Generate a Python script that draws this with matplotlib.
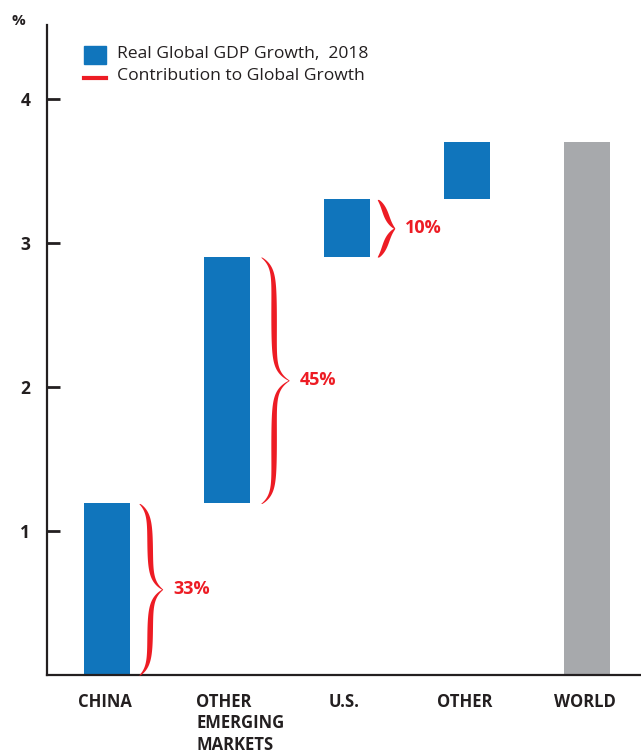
import numpy as np
import matplotlib
matplotlib.use('Agg')
import matplotlib.pyplot as plt
from matplotlib.transforms import blended_transform_factory

# Data
categories = ['CHINA', 'OTHER\nEMERGING\nMARKETS', 'U.S.', 'OTHER', 'WORLD']
bar_bottom = [0.0, 1.19, 2.90, 3.30, 0.0]
bar_top = [1.19, 2.90, 3.30, 3.70, 3.70]
contrib_labels = ['33%', '45%', '10%']
yticks = [1, 2, 3, 4]

blue = '#1075BC'
gray = '#A7A9AC'
red = '#ED1C24'
dark = '#231F20'

fig = plt.figure(figsize=(6.41, 7.54), dpi=100)
ax = fig.add_axes([0.0733, 0.1048, 0.9267, 0.862])
x = np.arange(len(categories))
colors = [blue, blue, blue, blue, gray]
heights = [t - b for t, b in zip(bar_top, bar_bottom)]
bar_w = 0.39
ax.bar(x, heights, bottom=bar_bottom, width=bar_w, color=colors, zorder=2)

ax.set_xlim(-0.5, 4.45)
ax.set_ylim(0, 4.51)


# curly brace drawn as a tapered filled shape
def draw_brace(ax, x0, y0, y1, w, label):
    ym = (y0 + y1) / 2
    half = (y1 - y0) / 2
    c = 0.06
    y = np.linspace(y0, y1, 600)
    d = half - np.abs(y - ym)          # distance from the nearest end
    a = 0.45 * w
    xc = x0 + a * (1 - np.exp(-d / c)) + (w - a) * np.exp(-(half - d) / c)
    s = d / half
    t = 0.004 + 0.019 * np.sin(np.pi * np.clip(s, 0, 1)) ** 0.5
    ax.fill_betweenx(y, xc - t, xc + t, color=red, lw=0, zorder=3)
    ax.text(x0 + w + 0.09, ym, label, color=red, fontsize=13, fontweight='bold',
            va='center', ha='left', family='Open Sans')


draw_brace(ax, 0 + bar_w / 2 + 0.075, bar_bottom[0], bar_top[0], 0.19, contrib_labels[0])
draw_brace(ax, 1 + bar_w / 2 + 0.09, bar_bottom[1], bar_top[1], 0.23, contrib_labels[1])
draw_brace(ax, 2 + bar_w / 2 + 0.06, bar_bottom[2], bar_top[2], 0.14, contrib_labels[2])

# axes styling
for side in ['top', 'right']:
    ax.spines[side].set_visible(False)
for side in ['left', 'bottom']:
    ax.spines[side].set_linewidth(1.6)
    ax.spines[side].set_color(dark)
ax.set_yticks(yticks)
ax.set_yticklabels([str(v) for v in yticks], fontsize=12.5, fontweight='bold',
                   color=dark, family='Open Sans')
ax.tick_params(axis='y', direction='in', length=9, width=2, color=dark, pad=12)
ax.set_xticks([])

# category labels
trans = blended_transform_factory(ax.transData, ax.transAxes)
for i, cat in enumerate(categories):
    if '\n' in cat:
        ax.text(i - bar_w / 2 - 0.06, -0.027, cat, transform=trans, ha='left', va='top',
                fontsize=12, fontweight='bold', color=dark, family='Open Sans',
                linespacing=1.25)
    else:
        ax.text(i - 0.02, -0.027, cat, transform=trans, ha='center', va='top',
                fontsize=12, fontweight='bold', color=dark, family='Open Sans')

fig.text(0.028, 0.972, '%', fontsize=11, fontweight='bold', color=dark,
         family='Open Sans', ha='center', va='center')

# legend
lx0, lx1 = 84 / 641, 106 / 641
fig.patches.append(plt.Rectangle((lx0, 1 - 64 / 754), lx1 - lx0, 18 / 754,
                                 transform=fig.transFigure, color=blue))
fig.lines.append(plt.Line2D([lx0, lx1], [1 - 78 / 754, 1 - 78 / 754],
                            transform=fig.transFigure, color=red, lw=3))
fig.text(117 / 641, 1 - 54 / 754, 'Real Global GDP Growth,  2018', fontsize=12.6,
         color=dark, va='center', ha='left', family='Open Sans')
fig.text(117 / 641, 1 - 76 / 754, 'Contribution to Global Growth', fontsize=12.6,
         color=dark, va='center', ha='left', family='Open Sans')

fig.savefig('out.png', dpi=100)
